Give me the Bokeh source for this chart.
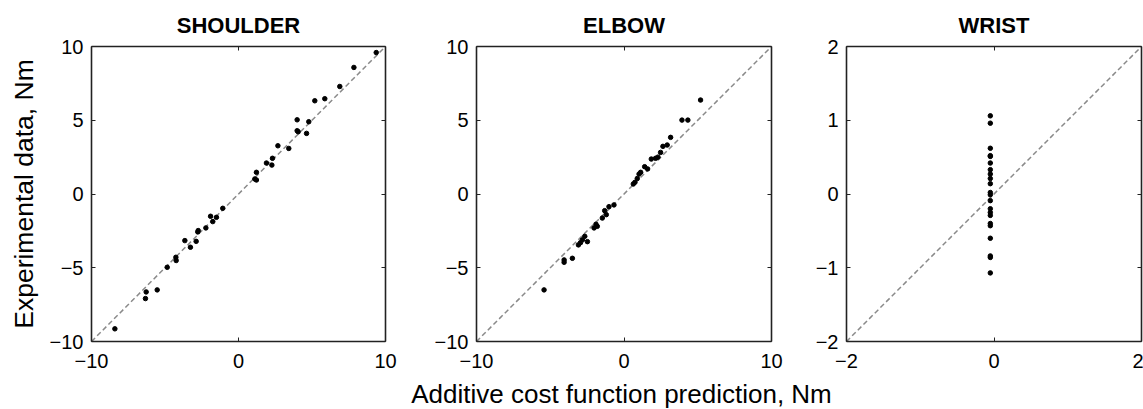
from bokeh.plotting import figure
from bokeh.layouts import row, column
from bokeh.models import LinearAxis, FixedTicker, Range1d, Title, Label
from bokeh.embed import file_html
from bokeh.resources import INLINE

# ---------------- data ----------------
shoulder_pred = [9.37, 7.85, 6.89, 5.19, 5.87, 3.99, 4.78, 3.99, 4.06, 4.63, 2.68, 3.42,
                 1.90, 2.31, 2.27, 1.22, 1.11, 1.22, -1.07, -1.50, -1.75, -1.90, -2.22,
                 -2.74, -2.77, -2.88, -3.65, -3.27, -4.26, -4.24, -4.85, -5.53, -6.28,
                 -6.33, -8.41]
shoulder_exp = [9.59, 8.58, 7.29, 6.32, 6.46, 5.03, 4.90, 4.29, 4.22, 4.11, 3.27, 3.09,
                2.10, 2.42, 1.96, 1.47, 1.02, 0.95, -0.97, -1.58, -1.87, -1.51, -2.30,
                -2.48, -2.57, -3.21, -3.16, -3.61, -4.29, -4.51, -4.97, -6.50, -6.64,
                -7.09, -9.14]

elbow_pred = [5.19, 3.93, 4.33, 3.16, 2.93, 2.64, 2.48, 2.14, 1.85, 1.40, 1.13, 1.02,
              0.74, 0.63, -0.68, -1.02, -1.31, -1.47, -1.81, -2.03, -2.48, -2.66, -2.82,
              -3.09, -3.50, -4.06, -4.06, -5.42, 1.60, 2.30, 0.90, -1.20, -1.90, -2.95]
elbow_exp = [6.37, 5.01, 5.01, 3.84, 3.32, 3.23, 2.82, 2.42, 2.37, 1.85, 1.47, 1.35,
             0.79, 0.68, -0.74, -0.86, -1.13, -1.63, -2.19, -2.30, -3.23, -2.87, -3.11,
             -3.45, -4.36, -4.47, -4.63, -6.50, 1.70, 2.50, 1.05, -1.40, -2.05, -3.30]

wrist_exp = [1.06, 0.96, 0.62, 0.52, 0.51, 0.42, 0.33, 0.27, 0.21, 0.14, 0.02, -0.01,
             -0.09, -0.20, -0.25, -0.29, -0.40, -0.43, -0.60, -0.84, -0.86, -1.07]
wrist_pred = [-0.05] * len(wrist_exp)

big_limits = [-10, 10]
small_limits = [-2, 2]
big_xticks = [-10, 0, 10]
big_yticks = [-10, -5, 0, 5, 10]
small_xticks = [-2, 0, 2]
small_yticks = [-2, -1, 0, 1, 2]

titles = ["SHOULDER", "ELBOW", "WRIST"]
ylabel = "Experimental data, Nm"
xlabel = "Additive cost function prediction, Nm"

FONT = "Liberation Sans"
AXC = "#222222"


def lbl(v):
    s = str(int(v)) if float(v).is_integer() else str(v)
    return s.replace("-", "\u2212")


def make_panel(title, px, py, lim, xt, yt, width, bl, br, ylab=None):
    p = figure(width=width, height=380, output_backend="svg", toolbar_location=None,
               x_range=Range1d(lim[0], lim[1]), y_range=Range1d(lim[0], lim[1]),
               min_border_left=bl, min_border_right=br, min_border_top=46,
               min_border_bottom=39, x_axis_location=None, y_axis_location=None)
    p.outline_line_color = None
    p.grid.visible = False
    p.background_fill_color = "white"
    p.border_fill_color = "white"

    def style(ax, ticks, show, standoff):
        ax.ticker = FixedTicker(ticks=ticks)
        ax.minor_tick_line_color = None
        ax.major_tick_in = 4
        ax.major_tick_out = 0
        ax.major_tick_line_color = AXC
        ax.major_tick_line_width = 1
        ax.axis_line_color = AXC
        ax.axis_line_width = 1.6
        ax.major_label_text_font = FONT
        ax.major_label_text_color = "black"
        ax.major_label_text_font_size = "20px"
        if show:
            ax.major_label_overrides = {t: lbl(t) for t in ticks}
            ax.major_label_standoff = standoff
        else:
            ax.major_label_overrides = {t: "" for t in ticks}
            ax.major_label_standoff = 0

    bottom = LinearAxis()
    style(bottom, xt, True, 12)
    left = LinearAxis()
    style(left, yt, True, 8)
    top = LinearAxis()
    style(top, xt, False, 0)
    right = LinearAxis()
    style(right, yt, False, 0)
    if ylab:
        left.axis_label = ylab
        left.axis_label_text_font = FONT
        left.axis_label_text_font_size = "26.5px"
        left.axis_label_text_font_style = "normal"
        left.axis_label_text_color = "black"
        left.axis_label_standoff = 8
    p.add_layout(bottom, "below")
    p.add_layout(left, "left")
    p.add_layout(top, "above")
    p.add_layout(right, "right")

    p.title = Title(text=title, align="center", text_font=FONT, text_font_size="22px",
                    text_font_style="bold", text_color="black", standoff=17)

    p.line(lim, lim, line_color="#8a8a8a", line_width=1.5, line_dash="5 3")
    p.scatter(px, py, size=4.5, color="black")
    return p


p1 = make_panel(titles[0], shoulder_pred, shoulder_exp, big_limits, big_xticks, big_yticks,
                420, 91, 35, ylab=ylabel)
p2 = make_panel(titles[1], elbow_pred, elbow_exp, big_limits, big_xticks, big_yticks,
                380, 56, 29)
p3 = make_panel(titles[2], wrist_pred, wrist_exp, small_limits, small_xticks, small_yticks,
                343, 46, 2)

plab = figure(width=1143, height=29, output_backend="svg", toolbar_location=None,
              title=None,
              x_range=Range1d(0, 1143), y_range=Range1d(0, 29),
              min_border_left=0, min_border_right=0, min_border_top=0, min_border_bottom=0,
              x_axis_location=None, y_axis_location=None)
plab.outline_line_color = None
plab.grid.visible = False
plab.add_layout(Label(x=621, y=16, text=xlabel, text_align="center",
                      text_baseline="alphabetic", text_font=FONT,
                      text_font_size="26px", text_color="black"))

layout = column(row(p1, p2, p3), plab)

with open("out.html", "w") as f:
    f.write(file_html(layout, INLINE))
